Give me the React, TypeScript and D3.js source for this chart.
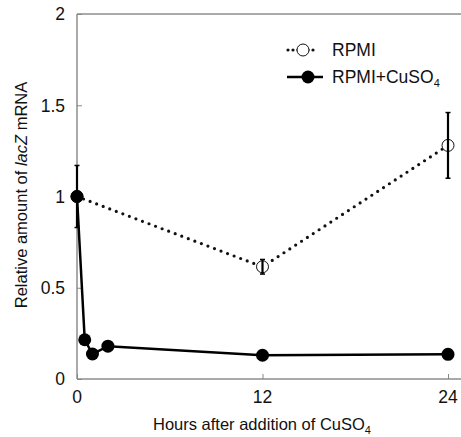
import React, { useEffect, useRef } from 'react';
import * as d3 from 'd3';

// hours after CuSO4 addition
const rpmiHours = [0, 12, 24];
const rpmiValues = [1.0, 0.615, 1.28];
const rpmiErrors = [0, 0.04, 0.18];

const cuHours = [0, 0.5, 1, 2, 12, 24];
const cuValues = [1.0, 0.215, 0.137, 0.18, 0.13, 0.135];
const cuErrors = [0.17, 0, 0, 0, 0, 0];

const xTicks = [0, 12, 24];
const yTicks = [0, 0.5, 1, 1.5, 2];

const App = () => {
  const svgRef = useRef<SVGSVGElement>(null);

  useEffect(() => {
    const svg = d3.select(svgRef.current);
    svg.selectAll('*').remove();

    const font = '"Liberation Sans", Arial, sans-serif';
    const x = d3.scaleLinear().domain([0, 24]).range([77, 448]);
    const y = d3.scaleLinear().domain([0, 2]).range([379, 14]);
    const axisColor = '#555';

    // frame: left axis, bottom axis, top line
    svg.append('line').attr('x1', 77).attr('x2', 77).attr('y1', y(2)).attr('y2', y(0))
      .attr('stroke', axisColor).attr('stroke-width', 1);
    svg.append('line').attr('x1', 77).attr('x2', 461).attr('y1', y(0)).attr('y2', y(0))
      .attr('stroke', axisColor).attr('stroke-width', 1);
    svg.append('line').attr('x1', 77).attr('x2', 461).attr('y1', y(2)).attr('y2', y(2))
      .attr('stroke', axisColor).attr('stroke-width', 1);

    // y ticks (inward)
    const yAx = svg.append('g').attr('transform', 'translate(77,0)')
      .call(d3.axisRight(y).tickValues(yTicks).tickSize(5).tickFormat(() => ''));
    yAx.select('.domain').remove();
    yAx.selectAll('line').attr('stroke', '#888');
    svg.selectAll('.ylab').data(yTicks).enter().append('text')
      .attr('x', 65).attr('y', d => y(d)).attr('dy', '0.36em')
      .attr('text-anchor', 'end').attr('font-family', font).attr('font-size', 17.5)
      .attr('fill', '#111').text(d => d3.format('')(d));

    // x ticks (inward)
    const xAx = svg.append('g').attr('transform', `translate(0,${y(0)})`)
      .call(d3.axisTop(x).tickValues(xTicks).tickSize(5).tickFormat(() => ''));
    xAx.select('.domain').remove();
    xAx.selectAll('line').attr('stroke', '#888');
    svg.selectAll('.xlab').data(xTicks).enter().append('text')
      .attr('x', d => x(d)).attr('y', 397).attr('dy', '0.36em')
      .attr('text-anchor', 'middle').attr('font-family', font).attr('font-size', 17.5)
      .attr('fill', '#111').text(d => String(d));

    // axis titles
    const xt = svg.append('text').attr('x', 262).attr('y', 430)
      .attr('text-anchor', 'middle').attr('font-family', font).attr('font-size', 16.5).attr('fill', '#111');
    xt.append('tspan').text('Hours after addition of CuSO');
    xt.append('tspan').attr('font-size', 11).attr('dy', 4).text('4');

    const yt = svg.append('text').attr('transform', 'translate(27,195) rotate(-90)')
      .attr('text-anchor', 'middle').attr('font-family', font).attr('font-size', 16.5).attr('fill', '#111');
    yt.append('tspan').text('Relative amount of ');
    yt.append('tspan').attr('font-style', 'italic').text('lacZ');
    yt.append('tspan').text(' mRNA');

    const rpmi = rpmiHours.map((h, i) => ({ h, v: rpmiValues[i], e: rpmiErrors[i] }));
    const cu = cuHours.map((h, i) => ({ h, v: cuValues[i], e: cuErrors[i] }));

    const line = d3.line<{ h: number; v: number }>().x(d => x(d.h)).y(d => y(d.v));

    // RPMI dotted
    svg.append('path').datum(rpmi).attr('d', line).attr('fill', 'none')
      .attr('stroke', '#111').attr('stroke-width', 3.2)
      .attr('stroke-dasharray', '0 7').attr('stroke-linecap', 'round');
    svg.selectAll('.rp').data(rpmi).enter().append('circle')
      .attr('cx', d => x(d.h)).attr('cy', d => y(d.v)).attr('r', 6)
      .attr('fill', '#fff').attr('stroke', '#111').attr('stroke-width', 1);

    // CuSO4 solid
    svg.append('path').datum(cu).attr('d', line).attr('fill', 'none')
      .attr('stroke', '#000').attr('stroke-width', 2.5);
    svg.selectAll('.cu').data(cu).enter().append('circle')
      .attr('cx', d => x(d.h)).attr('cy', d => y(d.v)).attr('r', 6.5)
      .attr('fill', '#000');

    // error bars
    const errs = [...rpmi, ...cu].filter(d => d.e > 0);
    errs.forEach(d => {
      const cx = x(d.h);
      svg.append('line').attr('x1', cx).attr('x2', cx)
        .attr('y1', y(d.v + d.e)).attr('y2', y(d.v - d.e))
        .attr('stroke', '#000').attr('stroke-width', 2.2);
      [d.v + d.e, d.v - d.e].forEach(v => {
        svg.append('line').attr('x1', cx - 2.5).attr('x2', cx + 2.5)
          .attr('y1', y(v)).attr('y2', y(v)).attr('stroke', '#000').attr('stroke-width', 1.5);
      });
    });

    // legend
    const lg = svg.append('g');
    lg.append('line').attr('x1', 288).attr('x2', 318).attr('y1', 50).attr('y2', 50)
      .attr('stroke', '#111').attr('stroke-width', 3.2)
      .attr('stroke-dasharray', '0 5').attr('stroke-linecap', 'round');
    lg.append('circle').attr('cx', 303).attr('cy', 50).attr('r', 6)
      .attr('fill', '#fff').attr('stroke', '#111').attr('stroke-width', 1);
    lg.append('text').attr('x', 332).attr('y', 50).attr('dy', '0.36em')
      .attr('font-family', font).attr('font-size', 17.5).attr('fill', '#111').text('RPMI');

    lg.append('line').attr('x1', 287).attr('x2', 323).attr('y1', 77).attr('y2', 77)
      .attr('stroke', '#000').attr('stroke-width', 2.5);
    lg.append('circle').attr('cx', 308).attr('cy', 77).attr('r', 6.5).attr('fill', '#000');
    const t2 = lg.append('text').attr('x', 332).attr('y', 77).attr('dy', '0.36em')
      .attr('font-family', font).attr('font-size', 17.5).attr('fill', '#111');
    t2.append('tspan').text('RPMI+CuSO');
    t2.append('tspan').attr('font-size', 11).attr('dy', 4).text('4');
  }, []);

  return (
    <svg ref={svgRef} width={461} height={437}
      style={{ position: 'absolute', left: 0, top: 0, background: '#fff' }} />
  );
};

export default App;
